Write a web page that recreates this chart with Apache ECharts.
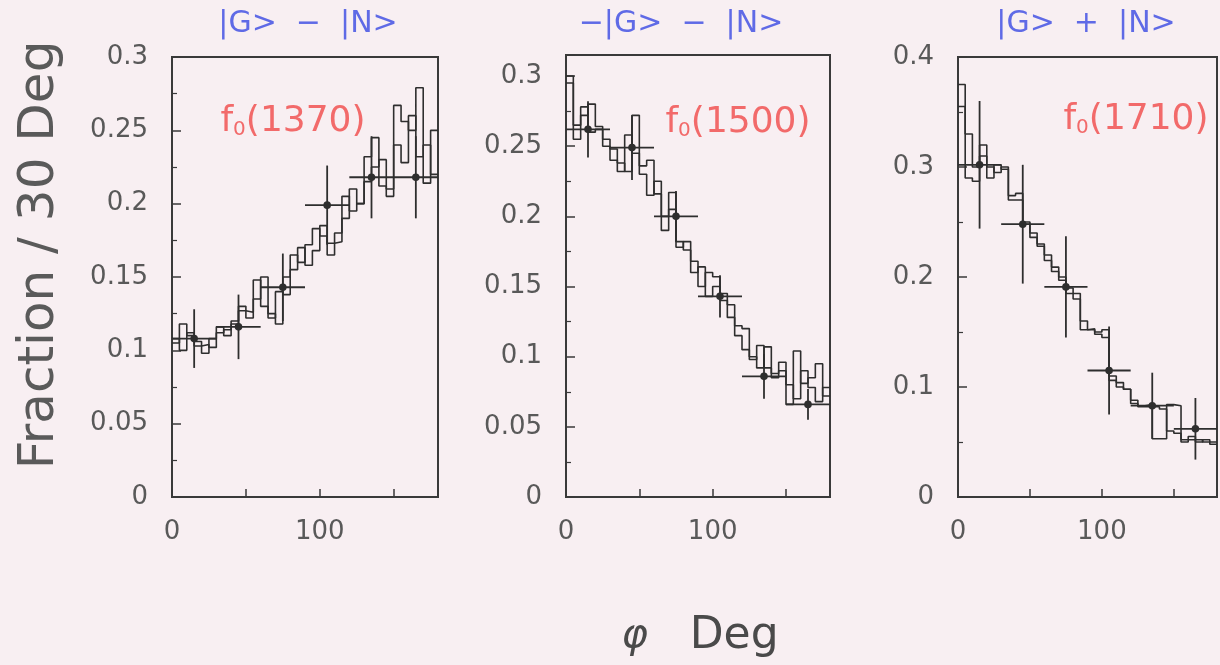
<!DOCTYPE html>
<html>
<head>
<meta charset="utf-8">
<title>f0 decay angle distributions</title>
<script src="https://cdn.jsdelivr.net/npm/echarts@6/dist/echarts.min.js"></script>
<style>
html,body{margin:0;padding:0;background:#f8eff2;}
#chart{width:1220px;height:665px;}
</style>
</head>
<body>
<div id="chart"></div>
<script>
// bin left edges of the fine histograms (5 deg bins), axis end
var binEdges = [0,5,10,15,20,25,30,35,40,45,50,55,60,65,70,75,80,85,90,95,100,105,110,115,120,125,130,135,140,145,150,155,160,165,170,175];
var xEnd = 180;
// 30 deg data points
var ptX = [15, 45, 75, 105, 135, 165];
var ptHalf = 15;

// panel 1 : f0(1370), |G> - |N>
var p1HistA = [0.105,0.118,0.110,0.103,0.104,0.102,0.112,0.114,0.118,0.127,0.126,0.148,0.130,0.122,0.140,0.138,0.165,0.160,0.172,0.183,0.178,0.173,0.174,0.205,0.195,0.200,0.232,0.245,0.212,0.210,0.267,0.256,0.250,0.279,0.214,0.250];
var p1HistB = [0.108,0.100,0.112,0.106,0.098,0.108,0.116,0.110,0.120,0.130,0.122,0.135,0.150,0.125,0.118,0.150,0.155,0.170,0.158,0.168,0.185,0.165,0.180,0.190,0.210,0.200,0.215,0.225,0.230,0.205,0.240,0.228,0.260,0.232,0.240,0.220];
var p1Y = [0.108, 0.116, 0.143, 0.199, 0.218, 0.218];
var p1Err = [0.020, 0.022, 0.023, 0.027, 0.028, 0.028];

// panel 2 : f0(1500), -|G> - |N>
var p2HistA = [0.300,0.255,0.272,0.280,0.264,0.255,0.248,0.238,0.232,0.272,0.236,0.240,0.216,0.200,0.217,0.178,0.182,0.168,0.150,0.160,0.157,0.140,0.137,0.122,0.120,0.100,0.092,0.107,0.088,0.096,0.066,0.104,0.081,0.085,0.095,0.072];
var p2HistB = [0.295,0.265,0.278,0.260,0.262,0.250,0.240,0.232,0.258,0.245,0.230,0.215,0.225,0.190,0.205,0.182,0.176,0.160,0.164,0.143,0.150,0.145,0.128,0.115,0.105,0.098,0.108,0.092,0.085,0.090,0.080,0.070,0.090,0.078,0.068,0.078];
var p2Y = [0.262, 0.249, 0.200, 0.143, 0.086, 0.066];
var p2Err = [0.020, 0.023, 0.018, 0.015, 0.016, 0.011];

// panel 3 : f0(1710), |G> + |N>
var p3HistA = [0.355,0.290,0.287,0.320,0.290,0.302,0.298,0.274,0.276,0.248,0.236,0.228,0.215,0.209,0.197,0.190,0.185,0.152,0.153,0.150,0.152,0.106,0.100,0.098,0.085,0.082,0.082,0.053,0.053,0.084,0.083,0.050,0.052,0.052,0.050,0.048];
var p3HistB = [0.375,0.330,0.300,0.310,0.300,0.295,0.300,0.270,0.270,0.250,0.240,0.230,0.220,0.205,0.200,0.185,0.180,0.160,0.152,0.148,0.145,0.110,0.104,0.098,0.088,0.083,0.084,0.082,0.080,0.060,0.058,0.052,0.055,0.050,0.052,0.050];
var p3Y = [0.302, 0.248, 0.191, 0.115, 0.083, 0.062];
var p3Err = [0.058, 0.054, 0.046, 0.040, 0.030, 0.028];

var titles = ['|G>  \u2212  |N>', '\u2212|G>  \u2212  |N>', '|G>  +  |N>'];
var masses = ['1370', '1500', '1710'];
var yMax = [0.3, 0.315, 0.4];
var yStep = [0.05, 0.05, 0.1];

var ink = '#2e2e2e';
var labelGray = '#595959';
var font = '"DejaVu Sans", sans-serif';

function histData(vals) {
    var d = binEdges.map(function (e, i) { return [e, vals[i]]; });
    d.push([xEnd, vals[vals.length - 1]]);
    return d;
}
function pointData(ys, errs) {
    return ptX.map(function (x, i) { return [x, ys[i], errs[i]]; });
}

function errRender(params, api) {
    var x = api.value(0), y = api.value(1), e = api.value(2);
    var c = api.coord([x, y]);
    var t = api.coord([x, y + e]);
    var b = api.coord([x, y - e]);
    var l = api.coord([x - ptHalf, y]);
    var r = api.coord([x + ptHalf, y]);
    var st = {stroke: ink, lineWidth: 1.8};
    return {type: 'group', children: [
        {type: 'line', shape: {x1: t[0], y1: t[1], x2: b[0], y2: b[1]}, style: st},
        {type: 'line', shape: {x1: l[0], y1: l[1], x2: r[0], y2: r[1]}, style: st},
        {type: 'circle', shape: {cx: c[0], cy: c[1], r: 3.8}, style: {fill: ink}}
    ]};
}

var grids = [
    {left: 172, top: 57, width: 266, height: 440},
    {left: 566, top: 55, width: 264, height: 442},
    {left: 958, top: 57, width: 266, height: 440}
];
grids.forEach(function (g) {
    g.show = true; g.borderColor = '#3a3a3a'; g.borderWidth = 2; g.backgroundColor = 'transparent';
});

var xAxes = [], yAxes = [], series = [];
for (var k = 0; k < 3; k++) {
    xAxes.push({
        type: 'value', gridIndex: k, min: 0, max: xEnd, interval: 50,
        axisLine: {show: true, lineStyle: {color: '#3a3a3a', width: 2}},
        axisTick: {show: true, inside: true, length: 8, lineStyle: {color: '#3a3a3a', width: 1.5}},
        axisLabel: {margin: 22, fontSize: 26, color: labelGray, fontFamily: font,
            formatter: function (v) { return (v === 0 || v === 100) ? String(v) : ''; }},
        splitLine: {show: false}
    });
    (function (step, top) {
        yAxes.push({
            type: 'value', gridIndex: k, min: 0, max: top, interval: step,
            axisLine: {show: true, lineStyle: {color: '#3a3a3a', width: 2}},
            axisTick: {show: true, inside: true, length: 9, lineStyle: {color: '#3a3a3a', width: 1.5}},
            minorTick: {show: true, splitNumber: 2, length: 5, lineStyle: {color: '#3a3a3a', width: 1.2}},
            axisLabel: {margin: 24, fontSize: 26, color: labelGray, fontFamily: font,
                formatter: function (v) {
                    var n = v / step;
                    if (Math.abs(n - Math.round(n)) > 1e-6) return '';
                    return String(Math.round(v * 1000) / 1000);
                }},
            splitLine: {show: false}
        });
    })(yStep[k], yMax[k]);
}

var hists = [[p1HistA, p1HistB], [p2HistA, p2HistB], [p3HistA, p3HistB]];
var pts = [pointData(p1Y, p1Err), pointData(p2Y, p2Err), pointData(p3Y, p3Err)];
for (var k = 0; k < 3; k++) {
    hists[k].forEach(function (h) {
        series.push({
            type: 'line', xAxisIndex: k, yAxisIndex: k, step: 'end',
            data: histData(h), showSymbol: false, silent: true,
            lineStyle: {color: ink, width: 1.6}
        });
    });
    series.push({
        type: 'custom', xAxisIndex: k, yAxisIndex: k, renderItem: errRender,
        data: pts[k], clip: true, z: 5
    });
}

var graphics = [];
var titleX = [308, 681, 1086];
var massPos = [[293, 122], [738, 123], [1136, 120]];
for (var k = 0; k < 3; k++) {
    graphics.push({
        type: 'text', x: titleX[k], y: 24,
        style: {text: titles[k], fill: '#5f6ae6', font: '30px ' + font, textAlign: 'center', textVerticalAlign: 'middle'}
    });
    graphics.push({
        type: 'text', x: massPos[k][0], y: massPos[k][1],
        style: {
            text: 'f{s|0}(' + masses[k] + ')', fill: '#f26a6a', font: '36px ' + font,
            textAlign: 'center', textVerticalAlign: 'middle',
            rich: {s: {fontSize: 20, fontFamily: font, fill: '#f26a6a', verticalAlign: 'bottom', padding: [14, 0, 0, 0]}}
        }
    });
}
graphics.push({
    type: 'text', x: 40, y: 255, rotation: Math.PI / 2,
    style: {text: 'Fraction / 30 Deg', fill: '#5a5a5a', font: '50px ' + font, textAlign: 'center', textVerticalAlign: 'middle'}
});
graphics.push({
    type: 'text', x: 700, y: 637,
    style: {
        text: '{p|\u03c6}   Deg', fill: '#4a4a4a', font: '44px ' + font,
        textAlign: 'center', textVerticalAlign: 'middle',
        rich: {p: {fontSize: 40, fontStyle: 'italic', fontFamily: font, fill: '#4a4a4a'}}
    }
});

var chart = echarts.init(document.getElementById('chart'));
chart.setOption({
    backgroundColor: '#f8eff2',
    animation: false,
    grid: grids,
    xAxis: xAxes,
    yAxis: yAxes,
    series: series,
    graphic: graphics
});
</script>
</body>
</html>
